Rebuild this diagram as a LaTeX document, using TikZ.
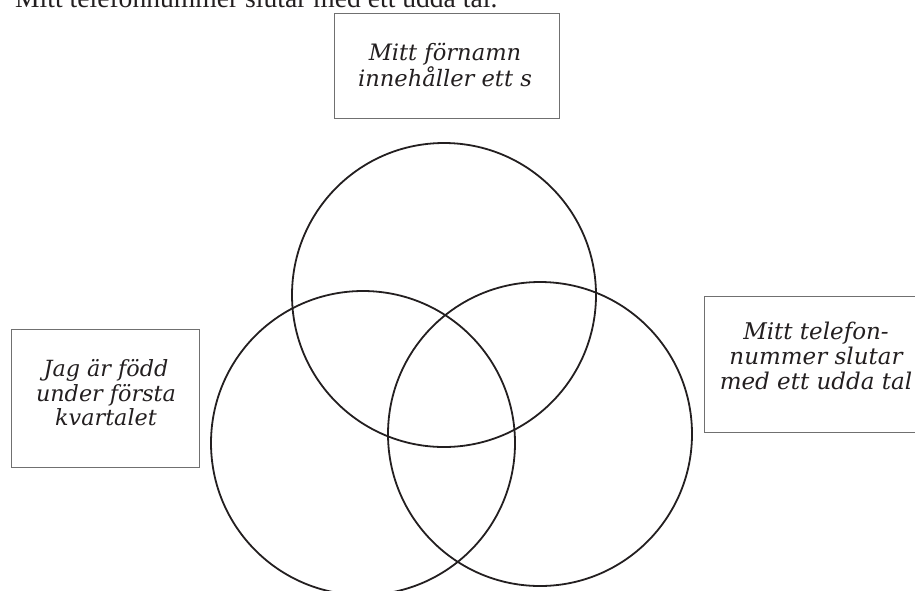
\documentclass[tikz,border=0pt]{standalone}
\usepackage{fontspec}
\setmainfont{Liberation Serif}
\newfontfamily\notefont{DejaVu Serif}
\definecolor{ink}{HTML}{231F20}
\definecolor{frame}{HTML}{707070}
\begin{document}
\begin{tikzpicture}[x=1pt,y=-1pt,
  ring/.style={draw=ink, line width=1.8pt},
  notebox/.style={draw=frame, line width=1pt, inner sep=0pt},
  notetext/.style 2 args={inner sep=0pt, align=center, text=ink,
    font=\notefont\itshape\fontsize{#1}{#2}\selectfont}]
\clip (0,0) rectangle (915,590);

% heading line, partly above the page edge
\node[anchor=base west, inner sep=0pt, text=ink,
  font=\fontsize{27.6}{30}\selectfont] (heading) at (15,7)
  {Mitt telefonnummer slutar med ett udda tal.};

% the three sets
\draw[ring] (444,295) circle (152);
\draw[ring] (363,443) circle (152);
\draw[ring] (540,434) circle (152);

% labels of the sets
\node[notebox, minimum width=225pt, minimum height=105pt] (fornamn) at (446.5,65.5) {};
\node[notetext={22.6}{22}] (fornamntext) at (445,65) {Mitt förnamn\\innehåller ett s};

\node[notebox, minimum width=188pt, minimum height=138pt] (fodd) at (105,398) {};
\node[notetext={22.3}{24.5}] (fodtext) at (106,393) {Jag är född\\under första\\kvartalet};

\node[notebox, minimum width=232pt, minimum height=136pt] (telefon) at (820,364) {};
\node[notetext={23}{25}] (telefontext) at (816,356) {Mitt telefon-\\nummer slutar\\med ett udda tal};
\end{tikzpicture}
\end{document}
